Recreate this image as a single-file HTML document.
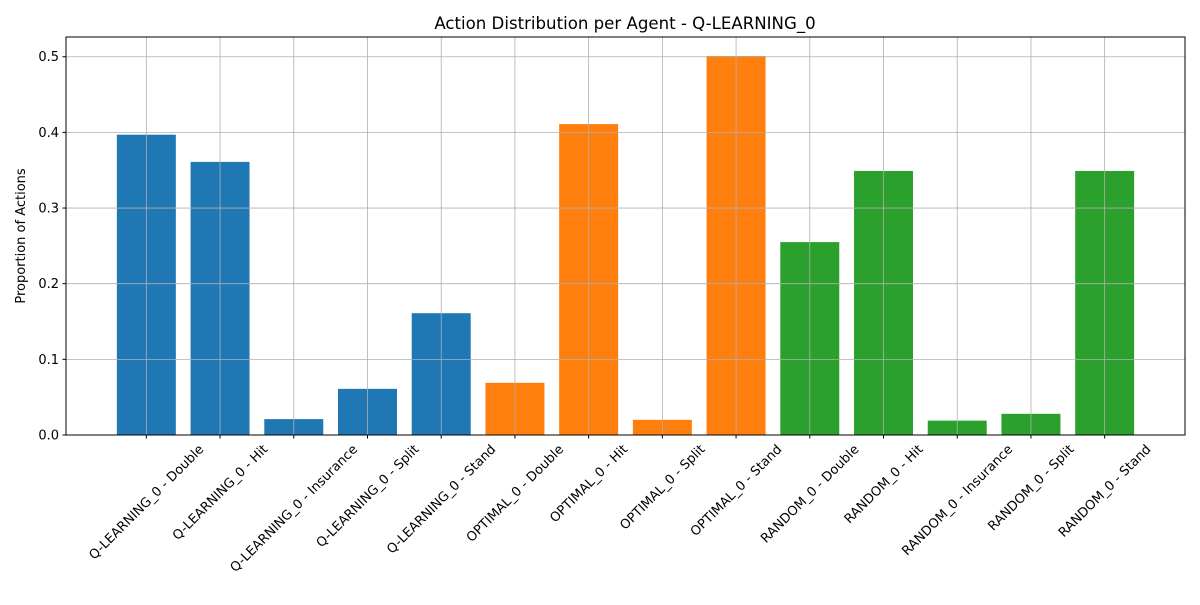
<!DOCTYPE html>
<html><head><meta charset="utf-8"><style>
body{margin:0;background:#fff;}
svg{font-family:"DejaVu Sans","Liberation Sans",sans-serif;}
</style></head><body>
<svg id="chart" width="1200" height="600">
<rect width="1200" height="600" fill="#fff"/>
<text x="625" y="29" font-size="16.6" text-anchor="middle">Action Distribution per Agent - Q-LEARNING_0</text>
<text transform="translate(25,236) rotate(-90)" font-size="13" text-anchor="middle">Proportion of Actions</text>
<g id="grid"></g><g id="bars"></g><g id="ticks"></g>
<rect x="66" y="37" width="1119" height="398" fill="none" stroke="#000" stroke-width="1"/>
</svg>
<script>
const categories=["Q-LEARNING_0 - Double","Q-LEARNING_0 - Hit","Q-LEARNING_0 - Insurance","Q-LEARNING_0 - Split","Q-LEARNING_0 - Stand","OPTIMAL_0 - Double","OPTIMAL_0 - Hit","OPTIMAL_0 - Split","OPTIMAL_0 - Stand","RANDOM_0 - Double","RANDOM_0 - Hit","RANDOM_0 - Insurance","RANDOM_0 - Split","RANDOM_0 - Stand"];
const values=[0.397,0.361,0.021,0.061,0.161,0.069,0.411,0.020,0.501,0.255,0.349,0.019,0.028,0.349];
const agents=["Q-LEARNING_0","Q-LEARNING_0","Q-LEARNING_0","Q-LEARNING_0","Q-LEARNING_0","OPTIMAL_0","OPTIMAL_0","OPTIMAL_0","OPTIMAL_0","RANDOM_0","RANDOM_0","RANDOM_0","RANDOM_0","RANDOM_0"];
const yTicks=[0,0.1,0.2,0.3,0.4,0.5];
const yTickLabels=["0.0","0.1","0.2","0.3","0.4","0.5"];
const agentColors={"Q-LEARNING_0":"#1f77b4","OPTIMAL_0":"#ff7f0e","RANDOM_0":"#2ca02c"};
const NS="http://www.w3.org/2000/svg";
const L=66,R=1185,T=37,B=435;
const yMax=0.5261;
const xMin=-1.09,xMax=14.09;
const xs=i=>L+(i-xMin)/(xMax-xMin)*(R-L);
const ys=v=>B-v/yMax*(B-T);
const bw=0.8*(R-L)/(xMax-xMin);
const grid=document.getElementById('grid'),bars=document.getElementById('bars'),ticks=document.getElementById('ticks');
function mk(tag,attrs,parent){const e=document.createElementNS(NS,tag);for(const k in attrs)e.setAttribute(k,attrs[k]);parent.appendChild(e);return e;}
yTicks.forEach((t,i)=>{
 const y=ys(t);
 const g=mk('line',{x1:L,x2:R,y1:y,y2:y,stroke:'#b0b0b0','stroke-width':0.8},grid);
 
 
 const tk=mk('line',{x1:L-3.5,x2:L,y1:y,y2:y,stroke:'#000'},ticks);
 
 
 const tx=mk('text',{x:L-7,y:y+4.5,'font-size':13,'text-anchor':'end'},ticks);
 tx.textContent=yTickLabels[i];
 
 
});
categories.forEach((c,i)=>{
 const x=xs(i);
 const b=mk('rect',{x:x-bw/2,y:ys(values[i]),width:bw,height:B-ys(values[i]),fill:agentColors[agents[i]]},bars);
 
 
 const g=mk('line',{x1:x,x2:x,y1:T,y2:B,stroke:'#b0b0b0','stroke-width':0.8},grid);
 
 
});
bars.parentNode.insertBefore(bars,grid);
categories.forEach((c,i)=>{
 const x=xs(i);
 const tk=mk('line',{x1:x,x2:x,y1:B,y2:B+3.5,stroke:'#000'},ticks);
 
 
 const tx=mk('text',{'font-size':13,'text-anchor':'end'},ticks);
 tx.textContent=c;
 
 
 const len=tx.getComputedTextLength();
 const ex=x+len*0.3536+3, ey=B+15;
 tx.setAttribute('x',ex);tx.setAttribute('y',ey);
 tx.setAttribute('transform',`rotate(-45 ${ex} ${ey})`);
});
</script>
</body></html>
